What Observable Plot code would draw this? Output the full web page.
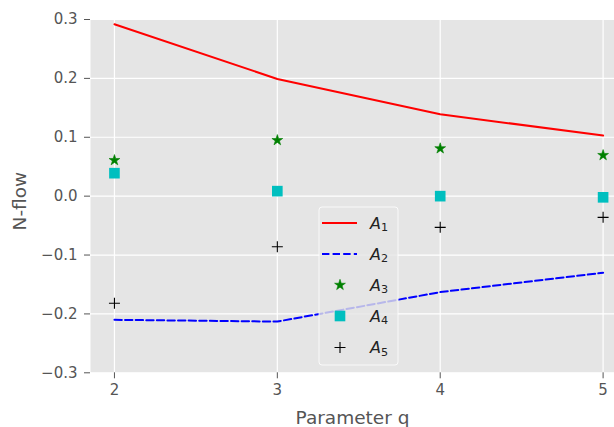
<!DOCTYPE html>
<html><head><meta charset="utf-8">
<script src="https://cdn.jsdelivr.net/npm/d3@7"></script>
<script src="https://cdn.jsdelivr.net/npm/@observablehq/plot@0.6"></script>
<style>body{margin:0;background:#fff;}</style>
</head><body><div id="chart"></div>
<script>
const q = [2, 3, 4, 5];
const A1 = [0.292, 0.199, 0.139, 0.103];
const A2 = [-0.210, -0.213, -0.163, -0.130];
const A3 = [0.061, 0.095, 0.081, 0.0695];
const A4 = [0.039, 0.0085, 0.000, -0.002];
const A5 = [-0.182, -0.086, -0.053, -0.036];
const yTicks = [-0.3, -0.2, -0.1, 0.0, 0.1, 0.2, 0.3];
const seriesNames = ["1", "2", "3", "4", "5"];

const data = q.map((v, i) => ({q: v, a1: A1[i], a2: A2[i], a3: A3[i], a4: A4[i], a5: A5[i]}));

const plusSymbol = {
  draw(ctx, size) {
    const r = Math.sqrt(size / Math.PI);
    ctx.moveTo(-r, 0); ctx.lineTo(r, 0);
    ctx.moveTo(0, -r); ctx.lineTo(0, r);
  }
};

const FONT = "DejaVu Sans, sans-serif";

const plot = Plot.plot({
  width: 614, height: 427,
  marginLeft: 90, marginRight: 0, marginTop: 19, marginBottom: 54.7,
  style: {fontFamily: FONT, fontSize: "15px", color: "#555", background: "#fff"},
  x: {domain: [1.853, 5.07]},
  y: {domain: [-0.3, 0.3]},
  marks: [
    Plot.frame({fill: "#E5E5E5", stroke: null}),
    Plot.gridX(q, {stroke: "white", strokeOpacity: 1, strokeWidth: 1.2}),
    Plot.gridY(yTicks, {stroke: "white", strokeOpacity: 1, strokeWidth: 1.2}),
    Plot.line(data, {x: "q", y: "a1", stroke: "#ff0000", strokeWidth: 2}),
    Plot.line(data, {x: "q", y: "a2", stroke: "#0000ff", strokeWidth: 2, strokeDasharray: "7.4,3.2"}),
    Plot.dot(data, {x: "q", y: "a3", symbol: "star", fill: "#008000", stroke: "#008000", strokeWidth: 0.6, r: 3.4}),
    Plot.dot(data, {x: "q", y: "a4", symbol: "square", fill: "#00BFBF", r: 6}),
    Plot.dot(data, {x: "q", y: "a5", symbol: plusSymbol, fill: "none", stroke: "#000", strokeWidth: 1.1, r: 5.5}),
    Plot.axisX({ticks: q, tickFormat: d3.format("d"), tickSize: 6, tickPadding: 6, label: null, stroke: "#555", fill: "#555", fontSize: 15}),
    Plot.axisY({ticks: yTicks, tickFormat: d3.format(".1f"), tickSize: 6, tickPadding: 7, label: null, stroke: "#555", fill: "#555", fontSize: 15}),
    Plot.text(["Parameter q"], {frameAnchor: "bottom", textAnchor: "middle", lineAnchor: "middle", dy: 45, fontSize: 18.5, fill: "#555"}),
    Plot.text(["N-flow"], {frameAnchor: "left", textAnchor: "middle", lineAnchor: "middle", dx: -70, dy: 5, rotate: -90, fontSize: 18.5, fill: "#555"})
  ]
});
document.getElementById("chart").appendChild(plot);

// Legend (matplotlib-style, semi-transparent)
const svg = d3.select(plot);
const lg = svg.append("g").attr("class", "legend");
lg.append("rect").attr("x", 319).attr("y", 207).attr("width", 79).attr("height", 158)
  .attr("rx", 3).attr("fill", "#E5E5E5").attr("fill-opacity", 0.8)
  .attr("stroke", "#fff").attr("stroke-opacity", 0.8).attr("stroke-width", 1);
const rowY = [223, 254, 285, 316, 347.5];
const handleX0 = 322, handleX1 = 357, markX = 340;
lg.append("line").attr("x1", handleX0).attr("x2", handleX1).attr("y1", rowY[0]).attr("y2", rowY[0])
  .attr("stroke", "#ff0000").attr("stroke-width", 2);
lg.append("line").attr("x1", handleX0).attr("x2", handleX1).attr("y1", rowY[1]).attr("y2", rowY[1])
  .attr("stroke", "#0000ff").attr("stroke-width", 2).attr("stroke-dasharray", "7.4,3.2");
lg.append("path").attr("transform", `translate(${markX},${rowY[2]})`)
  .attr("d", d3.symbol(d3.symbolStar, Math.PI * 3.4 * 3.4)()).attr("fill", "#008000").attr("stroke", "#008000").attr("stroke-width", 0.6);
lg.append("path").attr("transform", `translate(${markX},${rowY[3]})`)
  .attr("d", d3.symbol(d3.symbolSquare, Math.PI * 36)()).attr("fill", "#00BFBF");
lg.append("path").attr("transform", `translate(${markX},${rowY[4]})`)
  .attr("d", d3.symbol(plusSymbol, Math.PI * 5.5 * 5.5)()).attr("fill", "none").attr("stroke", "#000").attr("stroke-width", 1.1);
seriesNames.forEach((n, i) => {
  const t = lg.append("text").attr("x", 370).attr("y", rowY[i] + 5.5)
    .attr("text-anchor", "start")
    .attr("font-family", FONT).attr("font-size", 16).attr("fill", "#222");
  t.append("tspan").attr("font-style", "italic").text("A");
  t.append("tspan").attr("font-size", 11.2).attr("dy", 2.5).text(n);
});
</script>
</body></html>
